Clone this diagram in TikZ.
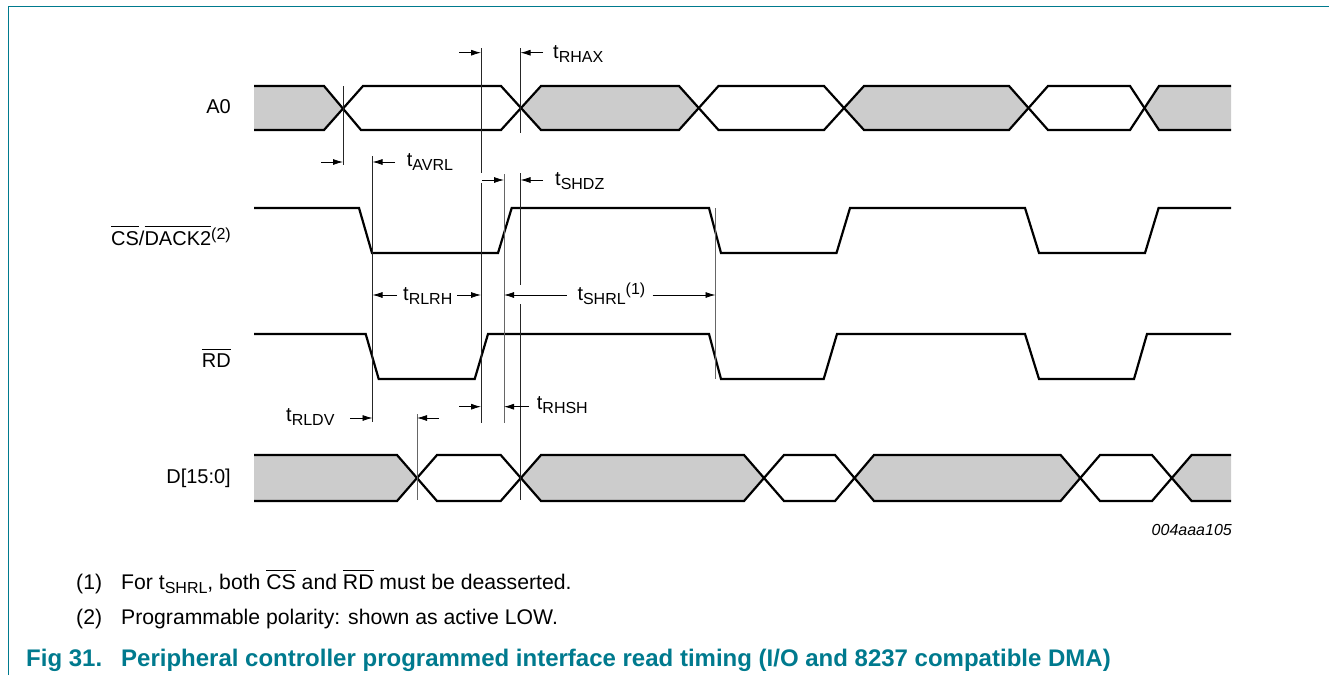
\documentclass[tikz,border=0pt]{standalone}
\usepackage{fontspec}
\setmainfont{Liberation Sans}
\usetikzlibrary{arrows.meta}
\definecolor{nxp}{HTML}{007A8E}
\definecolor{wavegray}{HTML}{CCCCCC}
\newcommand{\ovl}[1]{\leavevmode\vbox{\hrule height 1pt\kern 3.6pt\hbox{#1}}}
\newcommand{\tsub}[1]{t\raisebox{-4pt}{\fontsize{16}{18}\selectfont #1}}
\tikzset{
  x=1pt,y=-1pt,
  wave/.style={line width=2.2pt,line join=miter,black},
  guide/.style={line width=1pt,black!85},
  guidegray/.style={line width=1pt,black!60},
  dim/.style={line width=.8pt,black,-{Latex[length=10pt,width=6pt]}},
  lab/.style={inner sep=0pt,anchor=base west,font=\fontsize{20}{24}\selectfont},
  sig/.style={inner sep=0pt,anchor=base east,font=\fontsize{20}{24}\selectfont},
  note/.style={inner sep=0pt,anchor=base west,font=\fontsize{21.2}{25}\selectfont},
  capt/.style={inner sep=0pt,anchor=base west,text=nxp,font=\fontsize{24}{28}\selectfont\bfseries},
}
\begin{document}
\begin{tikzpicture}
\useasboundingbox (0,0) rectangle (1329,675);
% frame
\draw[nxp,line width=1.2pt] (8.5,675) -- (8.5,6.5) -- (1329,6.5);
% A0 bus
\fill[wavegray] (254,86) -- (324,86) -- (343,108) -- (324,130) -- (254,130) -- cycle;
\fill[wavegray] (520.5,108) -- (541,86) -- (679,86) -- (699,108) -- (679,130) -- (541,130) -- cycle;
\fill[wavegray] (844,108) -- (864,86) -- (1009,86) -- (1029,108) -- (1009,130) -- (864,130) -- cycle;
\fill[wavegray] (1144,108) -- (1159,86) -- (1231,86) -- (1231,130) -- (1159,130) -- cycle;
\draw[wave] (254,86) -- (324,86) -- (361,130) -- (501,130) -- (541,86) -- (679,86) -- (718.5,130) -- (824,130) -- (864,86) -- (1009,86) -- (1048,130) -- (1130,130) -- (1159,86) -- (1231,86);
\draw[wave] (254,130) -- (324,130) -- (363,86) -- (501,86) -- (541,130) -- (679,130) -- (718.5,86) -- (824,86) -- (864,130) -- (1009,130) -- (1048,86) -- (1130,86) -- (1159,130) -- (1231,130);
% D bus
\fill[wavegray] (254,455) -- (397,455) -- (417,478) -- (397,501) -- (254,501) -- cycle;
\fill[wavegray] (520.7,478) -- (541,455) -- (744,455) -- (764,478) -- (744,501) -- (541,501) -- cycle;
\fill[wavegray] (854.6,478) -- (874,455) -- (1060.6,455) -- (1080.7,478) -- (1060.6,501) -- (874,501) -- cycle;
\fill[wavegray] (1172,478) -- (1191.6,455) -- (1231,455) -- (1231,501) -- (1191.6,501) -- cycle;
\draw[wave] (254,455) -- (397,455) -- (437,501) -- (500.7,501) -- (541,455) -- (744,455) -- (784,501) -- (835,501) -- (874,455) -- (1060.6,455) -- (1100,501) -- (1152,501) -- (1191.6,455) -- (1231,455);
\draw[wave] (254,501) -- (397,501) -- (437,455) -- (500.7,455) -- (541,501) -- (744,501) -- (784,455) -- (835,455) -- (874,501) -- (1060.6,501) -- (1100,455) -- (1152,455) -- (1191.6,501) -- (1231,501);
% CS
\draw[wave] (254,208) -- (359,208) -- (372,253) -- (498,253) -- (511.7,208) -- (709,208) -- (721,253) -- (836.5,253) -- (850,208) -- (1025,208) -- (1039,253) -- (1145,253) -- (1158.6,208) -- (1231,208);
% RD
\draw[wave] (254,334) -- (365.7,334) -- (378.7,379) -- (474.7,379) -- (488,334) -- (709,334) -- (721,379) -- (823.7,379) -- (837,334) -- (1025,334) -- (1039,379) -- (1134,379) -- (1147,334) -- (1231,334);
% guide coordinates
\coordinate (g1a) at (343,86);   \coordinate (g1b) at (343,165);
\coordinate (g2a) at (372.5,156); \coordinate (g2b) at (372.5,422);
\coordinate (g3a) at (481,48);   \coordinate (g3b) at (481,173);
\coordinate (g3c) at (481,183);  \coordinate (g3d) at (481,423);
\coordinate (g4a) at (504,174);  \coordinate (g4b) at (504,423);
\coordinate (g5a) at (520.5,48); \coordinate (g5b) at (520.5,133);
\coordinate (g5c) at (520.5,173);\coordinate (g5d) at (520.5,285);
\coordinate (g5e) at (520.5,304);\coordinate (g5f) at (520.5,500);
\coordinate (g6a) at (715.5,208);\coordinate (g6b) at (715.5,379);
\coordinate (g7a) at (417,414);  \coordinate (g7b) at (417,500);
\draw[guide] (g1a)--(g1b) (g2a)--(g2b) (g3a)--(g3b) (g3c)--(g3d) (g5a)--(g5b) (g5c)--(g5d) (g5e)--(g5f);
\draw[guidegray] (g4a)--(g4b) (g6a)--(g6b) (g7a)--(g7b);
% dimension arrows
\coordinate (d1) at (459,52.7); \draw[dim] (d1) -- (481,52.7);
\coordinate (d2) at (543,52.7); \draw[dim] (d2) -- (520.5,52.7);
\coordinate (d3) at (321,162);  \draw[dim] (d3) -- (343,162);
\coordinate (d4) at (395,162);  \draw[dim] (d4) -- (372.5,162);
\coordinate (d5) at (482,180);  \draw[dim] (d5) -- (504,180);
\coordinate (d6) at (543,180);  \draw[dim] (d6) -- (520.5,180);
\coordinate (d7) at (397,295);  \draw[dim] (d7) -- (372.5,295);
\coordinate (d8) at (457,295);  \draw[dim] (d8) -- (481,295);
\coordinate (d9) at (566.7,295);\draw[dim] (d9) -- (504,295);
\coordinate (d10) at (652.7,295);\draw[dim] (d10) -- (715.5,295);
\coordinate (d11) at (459,406.7);\draw[dim] (d11) -- (481,406.7);
\coordinate (d12) at (529,406.7);\draw[dim] (d12) -- (504,406.7);
\coordinate (d13) at (350,418); \draw[dim] (d13) -- (372.5,418);
\coordinate (d14) at (439,418); \draw[dim] (d14) -- (417,418);
% timing labels
\node[lab] (tRHAX) at (553,58.3) {\tsub{RHAX}};
\node[lab] (tAVRL) at (406.7,166) {\tsub{AVRL}};
\node[lab] (tSHDZ) at (555,185) {\tsub{SHDZ}};
\node[lab] (tRLRH) at (403,300) {\tsub{RLRH}};
\node[lab] (tSHRL) at (577.3,300) {\tsub{SHRL}\raisebox{6pt}{\fontsize{16}{18}\selectfont(1)}};
\node[lab] (tRHSH) at (536.7,409) {\tsub{RHSH}};
\node[lab] (tRLDV) at (286,421.7) {\tsub{RLDV}};
% signal labels
\node[sig] (A0) at (231,113) {A0};
\node[sig] (CS) at (231,245) {\ovl{CS}/\ovl{DACK2}\raisebox{6pt}{\fontsize{16}{18}\selectfont(2)}};
\node[sig] (RD) at (231,367) {\ovl{RD}};
\node[sig] (D) at (231,483) {D[15:0]};
\node[inner sep=0pt,anchor=base east,font=\fontsize{16}{18}\selectfont\itshape] (ref) at (1232,535) {004aaa105};
% notes
\node[note] (n1) at (76,589) {(1)};
\node[note] (n1t) at (121,589) {For \tsub{SHRL}, both \ovl{CS} and \ovl{RD} must be deasserted.};
\node[note] (n2) at (76,624) {(2)};
\node[note] (n2t) at (121,624) {Programmable polarity: shown as active LOW.};
\node[capt] (f1) at (26,666) {Fig 31.};
\node[capt] (f2) at (121,666) {Peripheral controller programmed interface read timing (I/O and 8237 compatible DMA)};
\end{tikzpicture}
\end{document}
